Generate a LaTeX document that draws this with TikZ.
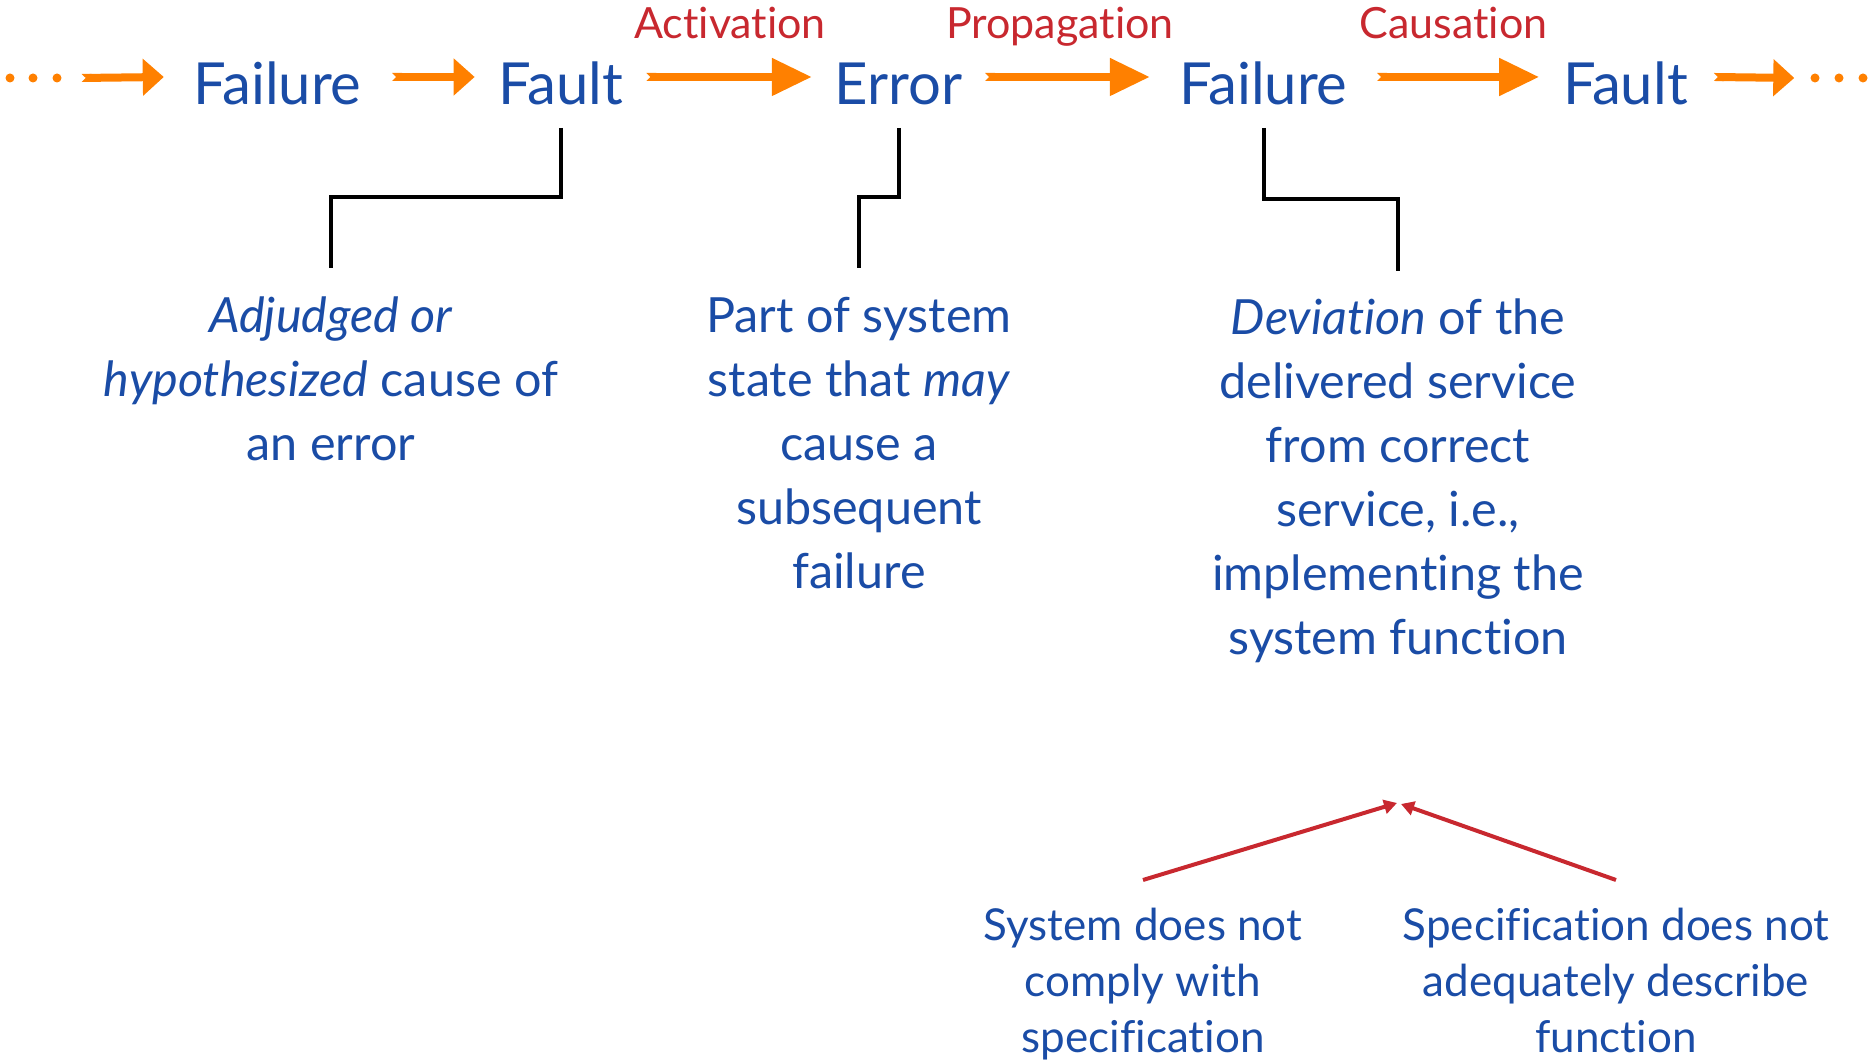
\documentclass[tikz,border=0pt]{standalone}
\usepackage{fontspec}
\setmainfont{Lato}[Ligatures=NoCommon]
\usetikzlibrary{arrows.meta,calc}
\definecolor{dblue}{HTML}{1A4CA6}
\definecolor{dred}{HTML}{C8282F}
\definecolor{dorange}{HTML}{FF8000}
\newcommand{\firstline}[1]{\rule{0pt}{#1}}
\begin{document}
\begin{tikzpicture}[x=1pt,y=1pt,
  word/.style={inner sep=0pt, text height=56pt, text depth=0pt, anchor=base,
    text=dblue, font=\fontsize{58}{64}\selectfont},
  tag/.style={inner sep=0pt, anchor=base, text=dred, font=\fontsize{43}{48}\selectfont},
  desc/.style={inner sep=0pt, anchor=north, align=center, text=dblue,
    font=\fontsize{48.5}{64}\selectfont},
  note/.style={inner sep=0pt, anchor=north, align=center, text=dblue,
    font=\fontsize{44}{56}\selectfont},
  flow/.style={draw=dorange, line width=8pt,
    arrows={{Triangle Cap[reversed]}-{Triangle[length=40pt,width=36pt]}}},
  flowshort/.style={draw=dorange, line width=8pt,
    arrows={{Triangle Cap[reversed]}-{Triangle[length=21pt,width=36pt]}}},
  dot/.style={circle, fill=dorange, inner sep=0pt, minimum size=9pt},
  conn/.style={draw=black, line width=4pt},
  cause/.style={draw=dred, line width=4pt, -{Triangle[length=13pt,width=14pt]}},
]
\useasboundingbox (0,0) rectangle (1872,1064);

% chain of dependability threats
\node[dot] (l1) at (10,986) {};
\node[dot] (l2) at (33,986) {};
\node[dot] (l3) at (57,986) {};
\node[word, minimum width=169pt] (fl1) at (277.5,959) {Failure};
\node[word, minimum width=124pt] (fa1) at (561,959) {Fault};
\node[word, minimum width=137pt] (er)  at (898.5,959) {Error};
\node[word, minimum width=171pt] (fl2) at (1263.5,959) {Failure};
\node[word, minimum width=123pt] (fa2) at (1625.5,959) {Fault};
\node[dot] (r1) at (1815,986) {};
\node[dot] (r2) at (1839,986) {};
\node[dot] (r3) at (1863,986) {};

\node[tag] (act)  at (730,1025)  {Activation};
\node[tag] (prop) at (1060,1025) {Propagation};
\node[tag] (caus) at (1453.5,1025) {Causation};

\draw[flowshort] ([xshift=20pt]l3.east) -- ([xshift=-29pt]fl1.west);
\draw[flowshort] ([xshift=30pt]fl1.east) -- ([xshift=-24pt]fa1.west);
\draw[flow] ([xshift=23pt]fa1.east) -- ([xshift=-18pt]er.west);
\draw[flow] ([xshift=18pt]er.east) -- ([xshift=-28pt]fl2.west);
\draw[flow] ([xshift=28pt]fl2.east) -- ([xshift=-24pt]fa2.west);
\draw[flowshort] ([xshift=26pt]fa2.east) -- ([xshift=-16pt]r1.west);

% definitions
\node[desc] (adj) at (331,772) {\firstline{40pt}\textit{Adjudged or}\\
  \textit{hypothesized} cause of\\ an error};
\node[desc] (part) at (859,772) {\firstline{40pt}Part of system\\
  state that \textit{may}\\ cause a\\ subsequent\\ failure};
\node[desc] (dev) at (1398,770) {\firstline{40pt}\textit{Deviation} of the\\
  delivered service\\ from correct\\ service, i.e.,\\
  implementing the\\ system function};

\draw[conn] ([yshift=-23pt]fa1.base) -- ++(0,-69) -| ([yshift=24pt]adj.north);
\draw[conn] ([yshift=-23pt]er.base)  -- ++(0,-69) -| ([yshift=24pt]part.north);
\draw[conn] ([yshift=-23pt]fl2.base) -- ++(0,-71) -| ([yshift=23pt]dev.north);

% two sources of a failure
\node[note] (sys) at (1143,162) {\firstline{38pt}System does not\\ comply with\\ specification};
\node[note] (spec) at (1616,162) {\firstline{38pt}Specification does not\\ adequately describe\\ function};
\coordinate (tipL) at (1397,261);
\coordinate (tipR) at (1401,260);
\draw[cause] ([yshift=22pt]sys.north) -- (tipL);
\draw[cause] ([yshift=22pt]spec.north) -- (tipR);
\end{tikzpicture}
\end{document}
